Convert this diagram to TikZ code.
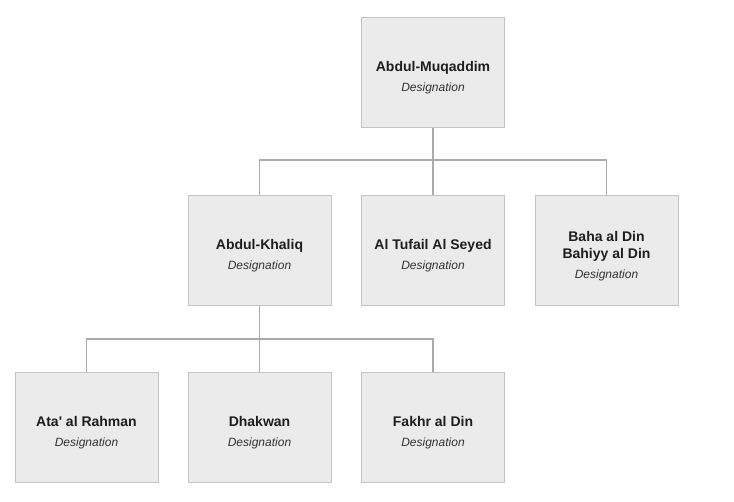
\documentclass[tikz,border=0pt]{standalone}
\usepackage{fontspec}
\setmainfont{Liberation Sans}
\definecolor{boxfill}{HTML}{EBEBEB}
\definecolor{boxline}{HTML}{C4C4C4}
\definecolor{conn}{HTML}{ABABAB}
\definecolor{txt}{HTML}{1E1E1E}
\definecolor{dtxt}{HTML}{333333}
\newcommand{\pname}[1]{{\bfseries\color{txt}#1}}
\newcommand{\pdesig}{{\itshape\fontsize{12}{14}\selectfont\color{dtxt}Designation}}
\tikzset{
  person/.style={draw=boxline, line width=1pt, fill=boxfill, rectangle,
    minimum width=143pt, minimum height=110pt, inner sep=0pt},
  ptext/.style={inner sep=0pt, align=center, font=\fontsize{14}{16.7}\selectfont},
  link/.style={draw=conn, line width=1.6pt}
}
\begin{document}
\begin{tikzpicture}[x=1pt,y=-1pt]
\useasboundingbox (0,0) rectangle (734,502);
\fill[white] (0,0) rectangle (734,502);
\coordinate (h1) at (433,160);
\coordinate (h2) at (259.5,339);
\node[person] (top) at (433,73) {};
\node[person] (m1) at (259.5,251) {};
\node[person] (m2) at (433,251) {};
\node[person] (m3) at (606.5,251) {};
\node[person] (b1) at (86.5,428) {};
\node[person] (b2) at (259.5,428) {};
\node[person] (b3) at (433,428) {};
\node[ptext] (ttop) at ([yshift=-5pt]top.center) {\pname{Abdul-Muqaddim}\\[3.3pt]\pdesig};
\node[ptext] (tm1) at ([yshift=-5pt]m1.center) {\pname{Abdul-Khaliq}\\[3.3pt]\pdesig};
\node[ptext] (tm2) at ([yshift=-5pt]m2.center) {\pname{Al Tufail Al Seyed}\\[3.3pt]\pdesig};
\node[ptext] (tm3) at ([yshift=-5pt]m3.center) {\pname{Baha al Din}\\\pname{Bahiyy al Din}\\[3.3pt]\pdesig};
\node[ptext] (tb1) at ([yshift=-5pt]b1.center) {\pname{Ata\textquotesingle{} al Rahman}\\[3.3pt]\pdesig};
\node[ptext] (tb2) at ([yshift=-5pt]b2.center) {\pname{Dhakwan}\\[3.3pt]\pdesig};
\node[ptext] (tb3) at ([yshift=-5pt]b3.center) {\pname{Fakhr al Din}\\[3.3pt]\pdesig};
\draw[link] (top.south) -- (m2.north);
\draw[link] (m1.north) |- (h1) -| (m3.north);
\draw[link] (m1.south) -- (b2.north);
\draw[link] (b1.north) |- (h2) -| (b3.north);
\end{tikzpicture}
\end{document}
